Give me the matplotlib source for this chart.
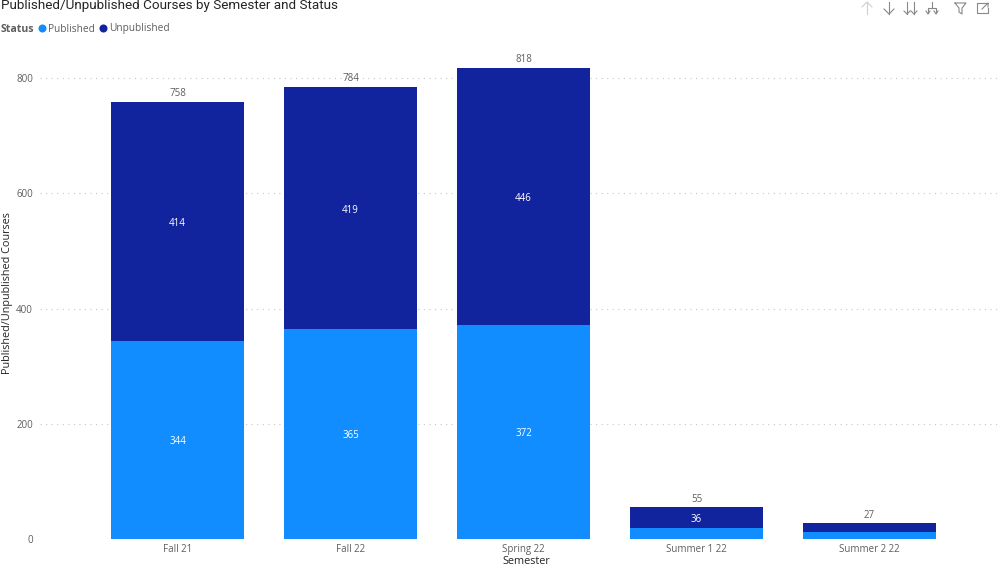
import matplotlib
matplotlib.use('Agg')
import matplotlib.pyplot as plt
from matplotlib.lines import Line2D

plt.rcParams['font.family'] = ['Open Sans', 'DejaVu Sans']

semesters = ['Fall 21', 'Fall 22', 'Spring 22', 'Summer 1 22', 'Summer 2 22']
published = [344, 365, 372, 19, 13]
unpublished = [414, 419, 446, 36, 14]
totals = [758, 784, 818, 55, 27]
published_labels = ['344', '365', '372', '', '']
unpublished_labels = ['414', '419', '446', '36', '']
yticks = [0, 200, 400, 600, 800]

W, H = 999, 566
LIGHT = '#118DFF'
DARK = '#12239E'
GREY = '#605E5C'

fig = plt.figure(figsize=(W / 100, H / 100), dpi=100, facecolor='white')
ax = fig.add_axes([40 / W, (H - 539) / H, (W - 40) / W, 499 / H])

x = list(range(len(semesters)))
bars1 = ax.bar(x, published, width=0.77, color=LIGHT, zorder=3)
bars2 = ax.bar(x, unpublished, width=0.77, bottom=published, color=DARK, zorder=3)

inner = ax.bar_label(bars1, labels=published_labels, label_type='center', color='white', fontsize=7)
inner += ax.bar_label(bars2, labels=unpublished_labels, label_type='center', color='white', fontsize=7)
for t in inner:
    t.xyann = (0, -1.5)
for i, t in enumerate(totals):
    ax.annotate(str(t), (i, t), xytext=(0, 2), textcoords='offset points', ha='center',
                va='bottom', fontsize=7, color=GREY)

# 173 px per category, first bar centre at 177.5 px
ax.set_xlim((40 - 177.5) / 173, (W - 177.5) / 173)
ax.set_ylim(0, 866)
ax.set_xticks(x, semesters)
ax.set_yticks(yticks)
ax.tick_params(axis='both', length=0, labelsize=7, labelcolor=GREY)
ax.tick_params(axis='x', pad=3.5)
ax.tick_params(axis='y', pad=5)
ax.set_axisbelow(True)
ax.grid(axis='y', color='#C8C6C4', linestyle=(0, (1, 4)), linewidth=0.8)
for s in ax.spines.values():
    s.set_visible(False)

fig.text(526 / W, 1 - 561 / H, 'Semester', ha='center', va='center', fontsize=7.8, color='#252423')
fig.text(8 / W, 1 - 293 / H, 'Published/Unpublished Courses', rotation=90, ha='center',
         va='center', fontsize=7.8, color='#252423')

fig.text(1 / W, 1 - 5 / H, 'Published/Unpublished Courses by Semester and Status', ha='left',
         va='center', fontsize=9.7, color='#252423', family=['Roboto', 'DejaVu Sans'])
fig.text(1 / W, 1 - 29 / H, 'Status', ha='left', va='center', fontsize=7.6,
         fontweight='bold', color=GREY)
fig.text(48 / W, 1 - 29 / H, 'Published', ha='left', va='center', fontsize=7.3, color=GREY)
fig.text(109 / W, 1 - 29 / H, 'Unpublished', ha='left', va='center', fontsize=7.3, color=GREY)
for px, c in [(42, LIGHT), (103, DARK)]:
    fig.add_artist(Line2D([px / W], [1 - 28 / H], marker='o', markersize=5.8, color=c,
                          linestyle='none', markeredgewidth=0))


# header icons, given in pixels
def icon(xs, ys, color='#8a8886'):
    fig.add_artist(Line2D([a / W for a in xs], [1 - b / H for b in ys], color=color, linewidth=0.8))


icon([867, 867], [2, 14], '#d0cfce')
icon([862, 867, 872], [7, 2, 7], '#d0cfce')
icon([889, 889], [2, 14])
icon([884, 889, 894], [9, 14, 9])
icon([907, 907], [2, 14])
icon([904, 907, 910], [11, 14, 11])
icon([914, 914], [2, 14])
icon([911, 914, 917], [11, 14, 11])
icon([932, 932], [2, 8])
icon([928, 928, 936, 936], [13, 8, 8, 13])
icon([926, 928, 930], [11, 14, 11])
icon([934, 936, 938], [11, 14, 11])
icon([955, 966, 962, 962, 959, 959, 955], [3, 3, 8, 14, 12, 8, 3])
icon([984, 977, 977, 988, 988], [3, 3, 13, 13, 8])
icon([982, 988, 988], [9, 3, 7])
icon([984, 988], [3, 3])

fig.savefig('out.png', dpi=100)
plt.close(fig)
